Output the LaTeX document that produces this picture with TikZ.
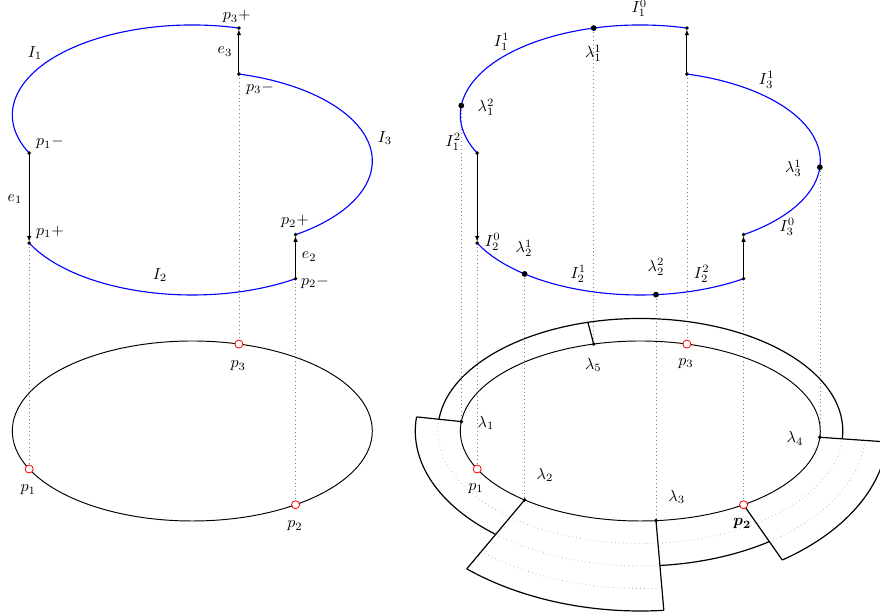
\documentclass[tikz,border=0pt]{standalone}
\usepackage{amsmath}
\usetikzlibrary{arrows.meta,calc}
\begin{document}
\begin{tikzpicture}[x=0.625pt,y=0.625pt,
  curve/.style={blue, line width=0.7pt},
  ring/.style={black, line width=0.6pt},
  fatring/.style={black, line width=0.75pt},
  proj/.style={gray, dotted, line width=0.45pt},
  lvl/.style={gray!60, dotted, line width=0.45pt},
  jump/.style={black, line width=0.7pt, shorten >=0.8pt, -{Latex[length=3.6pt,width=2.8pt]}},
  sdot/.style={circle, fill=black, inner sep=0pt, minimum size=2.4pt},
  bdot/.style={circle, fill=black, inner sep=0pt, minimum size=3.6pt},
  rpt/.style={circle, draw=red, fill=white, line width=0.5pt, inner sep=0pt, minimum size=5pt},
  lab/.style={inner sep=0pt}]
\useasboundingbox (0,0) rectangle (880,616);
\clip (0,0) rectangle (880,616);
% ---------------- LEFT ----------------
\coordinate (L0) at (192.3,185);
\coordinate (L1) at (192.3,501);
\coordinate (L2) at (192.3,411);
\coordinate (L3) at (192.3,455);
\coordinate (p1m) at ($(L1)+(205:180 and 90)$);
\coordinate (p3p) at ($(L1)+(75:180 and 90)$);
\coordinate (p1p) at ($(L2)+(205:180 and 90)$);
\coordinate (p2m) at ($(L2)+(305:180 and 90)$);
\coordinate (p2p) at ($(L3)+(305:180 and 90)$);
\coordinate (p3m) at ($(L3)+(75:180 and 90)$);
\coordinate (p1) at ($(L0)+(205:180 and 90)$);
\coordinate (p2) at ($(L0)+(305:180 and 90)$);
\coordinate (p3) at ($(L0)+(75:180 and 90)$);
\draw[proj] (p1p) -- (p1);
\draw[proj] (p2m) -- (p2);
\draw[proj] (p3m) -- (p3);
\draw[ring] (L0) ellipse[x radius=180, y radius=90];
\draw[curve] (p3p) arc[start angle=75, end angle=205, x radius=180, y radius=90];
\draw[curve] (p1p) arc[start angle=205, end angle=305, x radius=180, y radius=90];
\draw[curve] (p2p) arc[start angle=-55, end angle=75, x radius=180, y radius=90];
\draw[jump] (p1m) -- (p1p);
\draw[jump] (p2m) -- (p2p);
\draw[jump] (p3m) -- (p3p);
\foreach \n in {p1m,p1p,p2m,p2p,p3m,p3p} \node[sdot] at (\n) {};
\foreach \n in {p1,p2,p3} \node[rpt] at (\n) {};
\node[lab] (tp3p) at (236.7,599.3) {$p_3+$};
\node[lab] (te3) at (225,564.3) {$e_3$};
\node[lab] (tp3m) at (260,527.7) {$p_3-$};
\node[lab] (tI1) at (35,562.7) {$I_1$};
\node[lab] (tI3) at (385,477.7) {$I_3$};
\node[lab] (tp1m) at (50,473.3) {$p_1-$};
\node[lab] (te1) at (15,417) {$e_1$};
\node[lab] (tp1p) at (50,383.7) {$p_1+$};
\node[lab] (tp2p) at (295,394.3) {$p_2+$};
\node[lab] (te2) at (309.3,359.3) {$e_2$};
\node[lab] (tp2m) at (315,333.7) {$p_2-$};
\node[lab] (tI2) at (160,341) {$I_2$};
\node[lab] (tp3) at (238.3,250) {$p_3$};
\node[lab] (tp1) at (28.3,126) {$p_1$};
\node[lab] (tp2) at (295,90) {$p_2$};
% ---------------- RIGHT ----------------
\coordinate (R0) at (640.3,185);
\coordinate (R1) at (640.3,501);
\coordinate (R2) at (640.3,411);
\coordinate (R3) at (640.3,455);
\coordinate (q1m) at ($(R1)+(205:180 and 90)$);
\coordinate (q3p) at ($(R1)+(75:180 and 90)$);
\coordinate (q1p) at ($(R2)+(205:180 and 90)$);
\coordinate (q2m) at ($(R2)+(305:180 and 90)$);
\coordinate (q2p) at ($(R3)+(305:180 and 90)$);
\coordinate (q3m) at ($(R3)+(75:180 and 90)$);
\coordinate (l11) at ($(R1)+(105:180 and 90)$);
\coordinate (l12) at ($(R1)+(174:180 and 90)$);
\coordinate (l21) at ($(R2)+(230:180 and 90)$);
\coordinate (l22) at ($(R2)+(275:180 and 90)$);
\coordinate (l31) at ($(R3)+(-4:180 and 90)$);
\coordinate (r1) at ($(R0)+(205:180 and 90)$);
\coordinate (r2) at ($(R0)+(305:180 and 90)$);
\coordinate (r3) at ($(R0)+(75:180 and 90)$);
\coordinate (m1) at ($(R0)+(174:180 and 90)$);
\coordinate (m2) at ($(R0)+(230:180 and 90)$);
\coordinate (m3) at ($(R0)+(275:180 and 90)$);
\coordinate (m4) at ($(R0)+(-4:180 and 90)$);
\coordinate (m5) at ($(R0)+(105:180 and 90)$);
% outer level points
\coordinate (o5) at ($(R0)+(105:202.5 and 112.5)$);
\coordinate (o1) at ($(R0)+(174:225 and 135)$);
\coordinate (o2) at ($(R0)+(230:270 and 180)$);
\coordinate (o3) at ($(R0)+(275:270 and 180)$);
\coordinate (or2) at ($(R0)+(305:247.5 and 157.5)$);
\coordinate (o4) at ($(R0)+(-4:247.5 and 157.5)$);
\coordinate (a1) at ($(R0)+(-4:202.5 and 112.5)$);
\coordinate (a2) at ($(R0)+(174:225 and 135)$);
\coordinate (a4) at ($(R0)+(230:270 and 180)$);
\coordinate (a5) at ($(R0)+(275:225 and 135)$);
\coordinate (a6) at ($(R0)+(305:247.5 and 157.5)$);
\coordinate (d1) at ($(R0)+(174:202.5 and 112.5)$);
\coordinate (d2) at ($(R0)+(230:225 and 135)$);
\coordinate (d3) at ($(R0)+(230:247.5 and 157.5)$);
\coordinate (d4) at ($(R0)+(305:225 and 135)$);
% projections
\draw[proj] (l12) -- (m1);
\draw[proj] (q1p) -- (r1);
\draw[proj] (l21) -- (m2);
\draw[proj] (l11) -- (m5);
\draw[proj] (l22) -- (m3);
\draw[proj] (q3m) -- (r3);
\draw[proj] (q2m) -- (r2);
\draw[proj] (l31) -- (m4);
% level dotted arcs
\draw[lvl] (d1) arc[start angle=174, end angle=356, x radius=202.5, y radius=112.5];
\draw[lvl] (d2) arc[start angle=230, end angle=275, x radius=225, y radius=135];
\draw[lvl] (d3) arc[start angle=230, end angle=275, x radius=247.5, y radius=157.5];
\draw[lvl] (d4) arc[start angle=305, end angle=356, x radius=225, y radius=135];
% ring structure
\draw[ring] (R0) ellipse[x radius=180, y radius=90];
\draw[fatring] (a1) arc[start angle=-4, end angle=174, x radius=202.5, y radius=112.5];
\draw[fatring] (a2) arc[start angle=174, end angle=230, x radius=225, y radius=135];
\draw[fatring] (a4) arc[start angle=230, end angle=275, x radius=270, y radius=180];
\draw[fatring] (a5) arc[start angle=275, end angle=305, x radius=225, y radius=135];
\draw[fatring] (a6) arc[start angle=305, end angle=356, x radius=247.5, y radius=157.5];
\draw[fatring] (m5) -- (o5);
\draw[fatring] (m1) -- (o1);
\draw[fatring] (m2) -- (o2);
\draw[fatring] (m3) -- (o3);
\draw[fatring] (r2) -- (or2);
\draw[fatring] (m4) -- (o4);
% top curve
\draw[curve] (q3p) arc[start angle=75, end angle=205, x radius=180, y radius=90];
\draw[curve] (q1p) arc[start angle=205, end angle=305, x radius=180, y radius=90];
\draw[curve] (q2p) arc[start angle=-55, end angle=75, x radius=180, y radius=90];
\draw[jump] (q1m) -- (q1p);
\draw[jump] (q2m) -- (q2p);
\draw[jump] (q3m) -- (q3p);
\foreach \n in {q1m,q1p,q2m,q2p,q3m,q3p,m1,m2,m3,m4,m5} \node[sdot] at (\n) {};
\foreach \n in {l11,l12,l21,l22,l31} \node[bdot] at (\n) {};
\foreach \n in {r1,r2,r3} \node[rpt] at (\n) {};
\node[lab] (tI10) at (639.3,607.7) {$I_1^0$};
\node[lab] (tI11) at (501.7,574.3) {$I_1^1$};
\node[lab] (tl11) at (593.3,562.7) {$\lambda_1^1$};
\node[lab] (tI31) at (766.7,536) {$I_3^1$};
\node[lab] (tl12) at (486,508.7) {$\lambda_1^2$};
\node[lab] (tI12) at (453.3,474.3) {$I_1^2$};
\node[lab] (tl31) at (793.3,447.7) {$\lambda_3^1$};
\node[lab] (tI30) at (787.3,389.3) {$I_3^0$};
\node[lab] (tI20) at (492.7,374.3) {$I_2^0$};
\node[lab] (tl21) at (524,367.7) {$\lambda_2^1$};
\node[lab] (tI21) at (578.3,342) {$I_2^1$};
\node[lab] (tl22) at (656,349.3) {$\lambda_2^2$};
\node[lab] (tI22) at (701.7,342) {$I_2^2$};
\node[lab] (tm5) at (593.3,251) {$\lambda_5$};
\node[lab] (tr3) at (686,252.7) {$p_3$};
\node[lab] (tm1) at (486,193.3) {$\lambda_1$};
\node[lab] (tm4) at (795,177.7) {$\lambda_4$};
\node[lab] (tr1) at (476,127.7) {$p_1$};
\node[lab] (tm2) at (545,141) {$\lambda_2$};
\node[lab] (tm3) at (676.7,119.3) {$\lambda_3$};
\node[lab] (tr2) at (742.3,92) {$\boldsymbol{p_2}$};
\end{tikzpicture}
\end{document}
